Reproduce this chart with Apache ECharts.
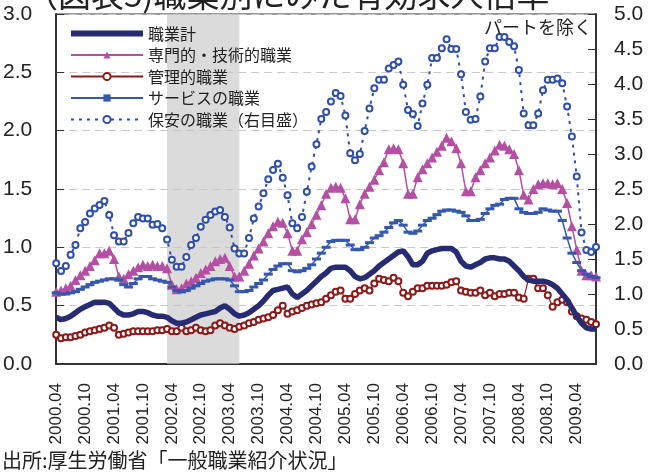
<!DOCTYPE html>
<html>
<head>
<meta charset="utf-8">
<script src="https://cdn.jsdelivr.net/npm/echarts@6/dist/echarts.min.js"></script>
<style>
  html, body { margin: 0; padding: 0; background: #fff; }
  #grafico { width: 652px; height: 472px; }
</style>
</head>
<body>
<div id="grafico"></div>
<script>
// 月次ラベル 2000.04 〜 2009.08
var meses = [];
for (var y = 2000; y <= 2009; y++) {
    for (var m = 1; m <= 12; m++) {
        if (y === 2000 && m < 4) continue;
        if (y === 2009 && m > 8) break;
        meses.push(y + '.' + (m < 10 ? '0' + m : m));
    }
}

var nombres = ['職業計', '専門的・技術的職業', '管理的職業', 'サービスの職業', '保安の職業（右目盛）'];

var shokugyoKei = [
    0.40, 0.38, 0.39, 0.41, 0.44, 0.47, 0.49, 0.51, 0.53, 0.53,
    0.53, 0.52, 0.48, 0.44, 0.42, 0.42, 0.43, 0.45, 0.45, 0.44,
    0.42, 0.41, 0.41, 0.40, 0.37, 0.35, 0.35, 0.36, 0.38, 0.40,
    0.42, 0.43, 0.44, 0.45, 0.48, 0.50, 0.47, 0.43, 0.41, 0.42,
    0.44, 0.47, 0.50, 0.54, 0.59, 0.63, 0.64, 0.65, 0.66, 0.60,
    0.57, 0.60, 0.63, 0.67, 0.71, 0.75, 0.78, 0.82, 0.83, 0.83,
    0.83, 0.80, 0.75, 0.73, 0.74, 0.77, 0.80, 0.84, 0.87, 0.90,
    0.93, 0.96, 0.97, 0.92, 0.85, 0.85, 0.88, 0.95, 0.97, 0.98,
    0.99, 0.99, 0.99, 0.96, 0.88, 0.84, 0.83, 0.85, 0.87, 0.90,
    0.91, 0.91, 0.90, 0.90, 0.88, 0.84, 0.80, 0.75, 0.72, 0.71,
    0.71, 0.71, 0.70, 0.68, 0.65, 0.60, 0.55, 0.48, 0.41, 0.35,
    0.31, 0.30, 0.30
];

var senmon = [
    0.62, 0.63, 0.65, 0.67, 0.72, 0.76, 0.80, 0.84, 0.89, 0.95,
    0.95, 0.97, 0.90, 0.75, 0.73, 0.77, 0.80, 0.83, 0.85, 0.84,
    0.85, 0.84, 0.84, 0.82, 0.68, 0.64, 0.65, 0.69, 0.71, 0.74,
    0.78, 0.81, 0.84, 0.88, 0.90, 0.91, 0.84, 0.75, 0.75, 0.80,
    0.86, 0.93, 0.99, 1.05, 1.12, 1.18, 1.22, 1.21, 1.12, 0.97,
    0.97, 1.07, 1.13, 1.20, 1.28, 1.36, 1.46, 1.51, 1.52, 1.51,
    1.42, 1.24, 1.24, 1.37, 1.46, 1.52, 1.58, 1.66, 1.73, 1.84,
    1.85, 1.84, 1.72, 1.46, 1.46, 1.60, 1.67, 1.72, 1.77, 1.82,
    1.87, 1.94, 1.91, 1.85, 1.72, 1.48, 1.48, 1.60, 1.66, 1.72,
    1.77, 1.83, 1.88, 1.87, 1.84, 1.80, 1.66, 1.45, 1.41, 1.50,
    1.54, 1.55, 1.55, 1.54, 1.55, 1.50, 1.38, 1.18, 0.98, 0.80,
    0.76, 0.76, 0.75
];

var kanri = [
    0.25, 0.22, 0.23, 0.23, 0.24, 0.25, 0.27, 0.28, 0.29, 0.30,
    0.31, 0.33, 0.31, 0.25, 0.26, 0.27, 0.28, 0.28, 0.28, 0.28,
    0.28, 0.29, 0.29, 0.30, 0.28, 0.28, 0.31, 0.28, 0.29, 0.31,
    0.29, 0.28, 0.29, 0.33, 0.35, 0.33, 0.31, 0.30, 0.32, 0.33,
    0.35, 0.36, 0.38, 0.39, 0.40, 0.42, 0.46, 0.50, 0.43, 0.45,
    0.46, 0.48, 0.50, 0.51, 0.52, 0.53, 0.56, 0.59, 0.62, 0.63,
    0.56, 0.56, 0.60, 0.63, 0.65, 0.63, 0.69, 0.73, 0.72, 0.71,
    0.74, 0.71, 0.61, 0.58, 0.62, 0.65, 0.65, 0.67, 0.67, 0.67,
    0.67, 0.68, 0.70, 0.71, 0.63, 0.62, 0.61, 0.61, 0.63, 0.59,
    0.61, 0.58, 0.60, 0.60, 0.61, 0.61, 0.57, 0.56, 0.73, 0.73,
    0.65, 0.65, 0.59, 0.49, 0.53, 0.55, 0.53, 0.45, 0.41, 0.39,
    0.38, 0.36, 0.34
];

var service = [
    0.61, 0.60, 0.60, 0.61, 0.62, 0.64, 0.66, 0.68, 0.70, 0.71,
    0.72, 0.73, 0.73, 0.72, 0.68, 0.66, 0.69, 0.73, 0.75, 0.75,
    0.73, 0.72, 0.71, 0.70, 0.66, 0.63, 0.62, 0.63, 0.65, 0.67,
    0.69, 0.71, 0.72, 0.73, 0.73, 0.73, 0.72, 0.67, 0.62, 0.62,
    0.63, 0.66, 0.69, 0.72, 0.77, 0.81, 0.84, 0.86, 0.86, 0.80,
    0.79, 0.80, 0.82, 0.85, 0.90, 0.95, 1.00, 1.05, 1.06, 1.06,
    1.06, 1.02, 0.98, 0.98, 1.00, 1.04, 1.08, 1.10, 1.13, 1.17,
    1.21, 1.23, 1.19, 1.13, 1.12, 1.14, 1.19, 1.23, 1.25, 1.28,
    1.31, 1.32, 1.32, 1.31, 1.30, 1.27, 1.23, 1.23, 1.24, 1.29,
    1.33, 1.36, 1.37, 1.41, 1.42, 1.42, 1.33, 1.30, 1.29, 1.29,
    1.30, 1.33, 1.32, 1.31, 1.31, 1.23, 1.08, 0.95, 0.87, 0.80,
    0.77, 0.75, 0.74
];

// 右目盛
var hoan = [
    1.44, 1.33, 1.40, 1.56, 1.70, 1.94, 2.03, 2.15, 2.22, 2.27,
    2.33, 2.13, 1.84, 1.75, 1.75, 1.87, 2.01, 2.10, 2.08, 2.08,
    1.99, 2.00, 1.94, 1.78, 1.49, 1.39, 1.39, 1.53, 1.70, 1.80,
    1.96, 2.06, 2.13, 2.18, 2.20, 2.10, 1.95, 1.65, 1.58, 1.58,
    1.80, 2.08, 2.25, 2.44, 2.64, 2.77, 2.86, 2.66, 2.41, 2.01,
    1.94, 2.10, 2.46, 2.82, 3.14, 3.50, 3.60, 3.75, 3.87, 3.83,
    3.55, 3.01, 2.91, 3.00, 3.33, 3.65, 3.94, 4.06, 4.06, 4.22,
    4.27, 4.32, 3.99, 3.63, 3.57, 3.40, 3.72, 3.99, 4.37, 4.37,
    4.51, 4.64, 4.50, 4.50, 4.14, 3.60, 3.49, 3.50, 3.82, 4.32,
    4.51, 4.51, 4.67, 4.67, 4.60, 4.54, 4.20, 3.58, 3.41, 3.41,
    3.58, 3.91, 4.06, 4.06, 4.08, 4.01, 3.68, 3.25, 2.68, 1.88,
    1.63, 1.60, 1.67
];

// 網掛け期間
var sombra = ['2002.03', '2003.06'];

var chartDom = document.getElementById('grafico');
var myChart = echarts.init(chartDom, null, { renderer: 'canvas' });

var fuenteJP = '"Noto Sans CJK JP", "Noto Sans", sans-serif';
var fuenteNum = '"Liberation Sans", Arial, sans-serif';

var option = {
    animation: false,
    backgroundColor: '#fff',
    title: [{
        text: '（図表5)職業別にみた有効求人倍率',
        left: 25,
        top: -22,
        padding: 0,
        textStyle: { fontFamily: fuenteJP, fontSize: 33, fontWeight: 'normal', color: '#222' }
    }, {
        text: 'パートを除く',
        right: 60,
        top: 18,
        padding: 0,
        textStyle: { fontFamily: fuenteJP, fontSize: 18, fontWeight: 'normal', color: '#222' }
    }, {
        text: '出所:厚生労働省「一般職業紹介状況」',
        left: 2,
        top: 450,
        padding: 0,
        textStyle: { fontFamily: fuenteJP, fontSize: 20, fontWeight: 'normal', color: '#222' }
    }],
    legend: {
        data: [
            { name: nombres[0], icon: 'path://M0,0H72V6H0Z' },
            nombres[1], nombres[2], nombres[3], nombres[4]
        ],
        orient: 'vertical',
        left: 70,
        top: 25,
        itemWidth: 72,
        itemHeight: 9,
        itemGap: 4.5,
        padding: 0,
        textStyle: { fontFamily: fuenteJP, fontSize: 16, color: '#222', lineHeight: 17 }
    },
    grid: {
        left: 56,
        right: 56,
        top: 14,
        bottom: 108,
        show: true,
        borderColor: '#333',
        borderWidth: 1
    },
    xAxis: {
        type: 'category',
        data: meses,
        boundaryGap: false,
        axisLine: { lineStyle: { color: '#333', width: 2 } },
        axisTick: { show: false },
        axisLabel: {
            interval: 5,
            rotate: 90,
            margin: 19,
            fontFamily: fuenteNum,
            fontSize: 17,
            color: '#222'
        },
        splitLine: { show: false }
    },
    yAxis: [{
        type: 'value',
        min: 0,
        max: 3,
        interval: 0.5,
        axisLine: { show: true, lineStyle: { color: '#333', width: 2 } },
        axisTick: { show: true, inside: true, length: 8, lineStyle: { color: '#333' } },
        axisLabel: {
            formatter: function (v) { return v.toFixed(1); },
            margin: 24,
            fontFamily: fuenteNum,
            fontSize: 21,
            color: '#222'
        },
        splitLine: { show: true, lineStyle: { color: '#c8c8c8', type: [8, 5], width: 1 } }
    }, {
        type: 'value',
        min: 0,
        max: 5,
        interval: 0.5,
        axisLine: { show: true, lineStyle: { color: '#333', width: 2 } },
        axisTick: { show: true, inside: true, length: 8, lineStyle: { color: '#333' } },
        axisLabel: {
            formatter: function (v) { return v.toFixed(1); },
            margin: 18,
            fontFamily: fuenteNum,
            fontSize: 21,
            color: '#222'
        },
        splitLine: { show: false }
    }],
    series: [{
        name: nombres[0],
        type: 'line',
        data: shokugyoKei,
        symbol: 'none',
        color: '#262b72',
        lineStyle: { color: '#262b72', width: 5.5 },
        z: 5
    }, {
        name: nombres[1],
        type: 'line',
        data: senmon,
        symbol: 'triangle',
        symbolSize: 10,
        showAllSymbol: true,
        color: '#b44fa3',
        lineStyle: { color: '#b44fa3', width: 1.5 },
        z: 3
    }, {
        name: nombres[2],
        type: 'line',
        data: kanri,
        symbol: 'emptyCircle',
        symbolSize: 6,
        showAllSymbol: true,
        color: '#8b1a1a',
        itemStyle: { borderWidth: 1.6 },
        lineStyle: { color: '#8b1a1a', width: 1.2 },
        z: 4
    }, {
        name: nombres[3],
        type: 'line',
        data: service,
        symbol: 'rect',
        symbolSize: [9, 3],
        showAllSymbol: true,
        color: '#3557ad',
        lineStyle: { color: '#3557ad', width: 1.5 },
        z: 3
    }, {
        name: nombres[4],
        type: 'line',
        yAxisIndex: 1,
        data: hoan,
        symbol: 'emptyCircle',
        symbolSize: 6,
        showAllSymbol: true,
        color: '#2f4fa8',
        itemStyle: { borderWidth: 1.6 },
        lineStyle: { color: '#2f4fa8', width: 2, type: [3, 5] },
        z: 2
    }, {
        name: 'sombra',
        type: 'line',
        data: [],
        z: 10,
        markArea: {
            silent: true,
            itemStyle: { color: 'rgba(200,200,200,0.65)' },
            data: [[{ xAxis: sombra[0] }, { xAxis: sombra[1] }]]
        }
    }]
};

myChart.setOption(option);
</script>
</body>
</html>
